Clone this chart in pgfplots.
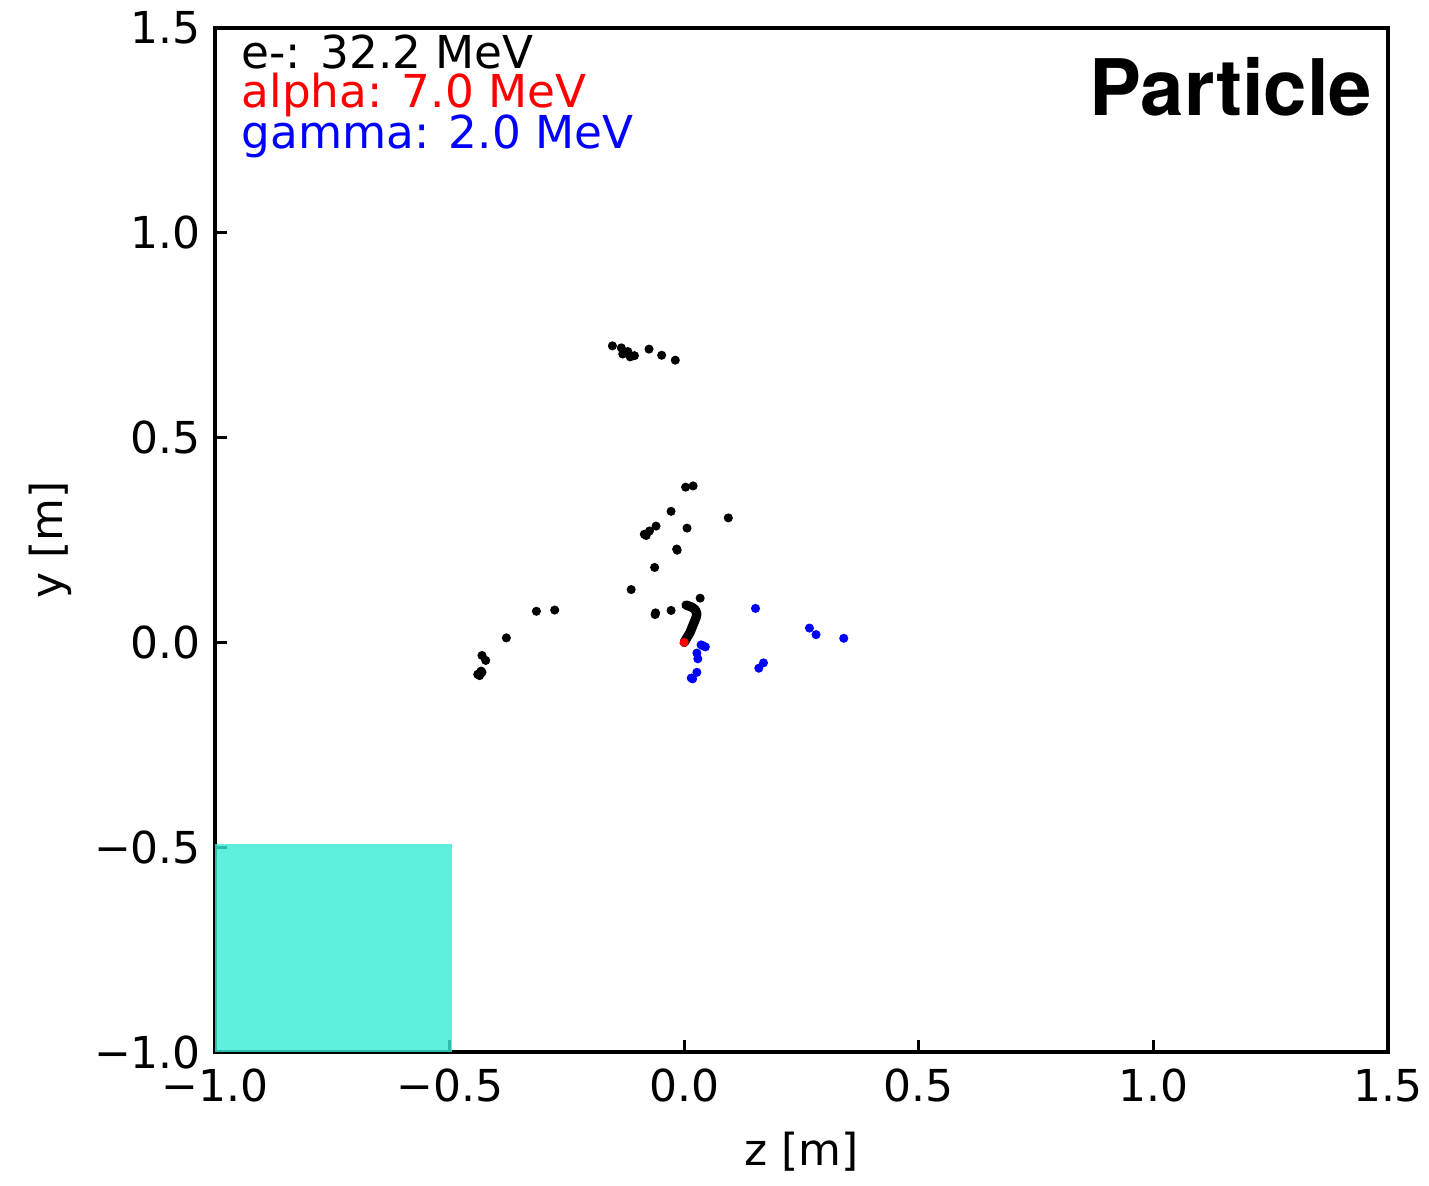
\documentclass[border=0pt]{standalone}
\usepackage{pgfplots}
\pgfplotsset{compat=1.18}
\usepackage{fontspec}
\setmainfont{DejaVu Sans}
\newfontfamily\heros{TeX Gyre Heros}
\definecolor{rectc}{RGB}{54,235,213}
\begin{document}
\begin{tikzpicture}
\begin{axis}[
  at={(0,0)}, anchor=south west,
  scale only axis, width=351.9bp, height=307.2bp,
  xmin=-1, xmax=1.5, ymin=-1, ymax=1.5,
  axis line style={line width=1.0bp},
  every tick/.style={black, line width=1.0bp},
  major tick length=3.5bp,
  tick align=inside, xtick pos=bottom, ytick pos=left,
  xtick={-1,-0.5,0,0.5,1,1.5},
  xticklabels={−1.0,−0.5,0.0,0.5,1.0,1.5},
  ytick={-1,-0.5,0,0.5,1,1.5},
  yticklabels={−1.0,−0.5,0.0,0.5,1.0,1.5},
  ticklabel style={font=\fontsize{13.2bp}{15bp}\selectfont},
  xticklabel style={yshift=-1.6bp},
  yticklabel style={xshift=-0.7bp},
  xlabel={z [m]}, ylabel={y [m]},
  every axis x label/.style={at={(axis description cs:0.5,-0.1104)}, anchor=base, font=\fontsize{13.2bp}{15bp}\selectfont},
  every axis y label/.style={at={(axis description cs:-0.1304,0.5)}, rotate=90, anchor=base, font=\fontsize{13.2bp}{15bp}\selectfont},
  clip=true,
]
% detector block
\addplot[draw=none, fill=rectc, fill opacity=0.8] coordinates {(-1,-1) (-0.495,-1) (-0.495,-0.493) (-1,-0.493)} -- cycle;
% electron track (dense deposits)
\addplot[black, line width=2.8bp, line cap=round, line join=round, no marks] coordinates {
(0.000,0.000) (0.0128,0.025) (0.0199,0.0456) (0.0256,0.0618) (0.027,0.070) (0.0234,0.080) (0.0164,0.086) (0.007,0.090) (0.004,0.091)};
% electron deposits
\addplot[only marks, mark=*, mark size=1.15bp, black] coordinates {
(-0.153,0.724) (-0.134,0.719) (-0.131,0.704) (-0.120,0.710) (-0.115,0.697) (-0.106,0.700) (-0.075,0.716) (-0.048,0.701) (-0.019,0.689)
(0.003,0.379) (0.019,0.382) (-0.028,0.320) (0.094,0.304) (-0.060,0.284) (-0.074,0.272) (-0.081,0.261) (-0.085,0.264) (0.006,0.279) (-0.016,0.228) (-0.015,0.225) (-0.063,0.183) (-0.113,0.129) (0.034,0.108)
(-0.028,0.078) (-0.062,0.068) (-0.061,0.072)
(-0.315,0.076) (-0.276,0.079) (-0.379,0.011) (-0.431,-0.032) (-0.423,-0.044) (-0.435,-0.076) (-0.431,-0.073) (-0.436,-0.081) (-0.440,-0.078) (-0.433,-0.070)
};
% gamma deposits
\addplot[only marks, mark=*, mark size=1.15bp, blue] coordinates {
(0.036,-0.006) (0.045,-0.011) (0.040,-0.008) (0.027,-0.026) (0.029,-0.040) (0.027,-0.073) (0.018,-0.089) (0.015,-0.087)
(0.152,0.083) (0.267,0.035) (0.281,0.019) (0.340,0.010) (0.169,-0.050) (0.159,-0.063)
};
% alpha deposit
\addplot[only marks, mark=*, mark size=1.15bp, red] coordinates {(0.0,0.0)};
\node[anchor=base west, inner sep=0pt, font=\fontsize{13.6bp}{15bp}\selectfont, text=black] at (rel axis cs:0.02217,0.9609) {e-: 32.2 MeV};
\node[anchor=base west, inner sep=0pt, font=\fontsize{13.6bp}{15bp}\selectfont, text=red] at (rel axis cs:0.02217,0.9219) {alpha: 7.0 MeV};
\node[anchor=base west, inner sep=0pt, font=\fontsize{13.6bp}{15bp}\selectfont, text=blue] at (rel axis cs:0.02217,0.8828) {gamma: 2.0 MeV};
\node[anchor=base east, inner sep=0pt, font=\heros\bfseries\fontsize{23.4bp}{26bp}\selectfont] at (rel axis cs:0.98721,0.9141) {Particle};
\end{axis}
\pgfresetboundingbox
\path (-64.5bp,-40.2bp) rectangle (364.2bp,315.6bp);
\end{tikzpicture}
\end{document}
